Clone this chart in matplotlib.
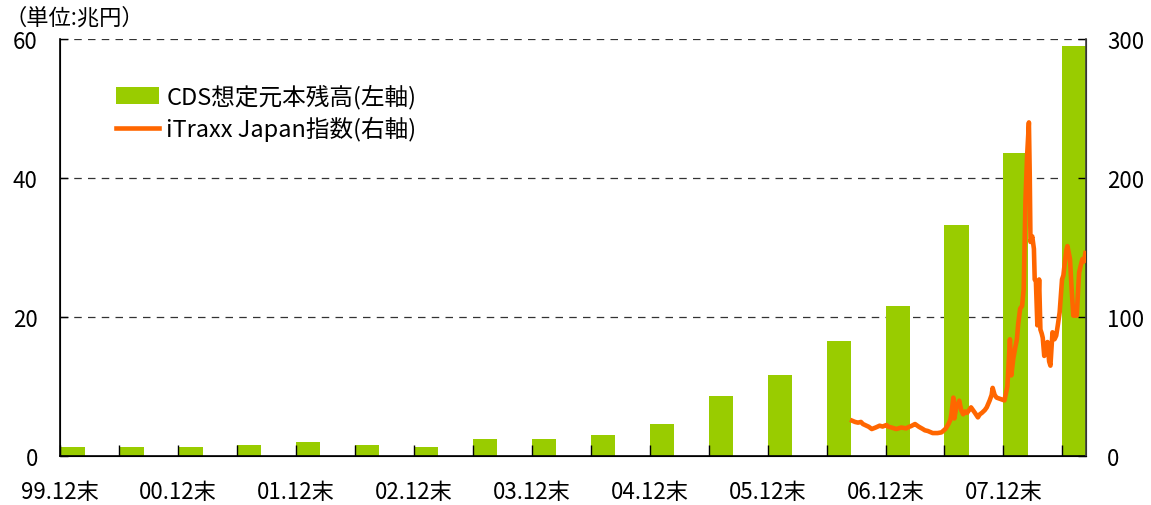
import matplotlib
matplotlib.use("Agg")
import matplotlib.pyplot as plt
from matplotlib.patches import Patch
from matplotlib.lines import Line2D

plt.rcParams['font.family'] = ['Noto Sans CJK JP', 'DejaVu Sans']

# CDS notional outstanding (trillion yen), half-yearly from 99.12
cds_period = ['99.12', '00.06', '00.12', '01.06', '01.12', '02.06', '02.12', '03.06', '03.12',
              '04.06', '04.12', '05.06', '05.12', '06.06', '06.12', '07.06', '07.12', '08.06']
cds_amount = [1.3, 1.3, 1.3, 1.6, 2.0, 1.6, 1.3, 2.5, 2.5,
              3.0, 4.6, 8.7, 11.7, 16.6, 21.6, 33.3, 43.6, 59.0]

# iTraxx Japan index, x = months after end of 1999.12
itraxx_month = [80.6, 80.9, 81.2, 81.5, 81.7, 82.0, 82.3, 82.6, 83.0, 83.4, 83.7, 84.1, 84.3,
                84.6, 85.1, 85.6, 86.1, 86.4, 86.6, 87.0, 87.2, 87.4, 87.8, 88.0, 88.3, 88.8,
                89.3, 89.7, 90.1, 90.4, 90.6, 90.7, 90.9, 91.0, 91.2, 91.5, 91.7, 91.9, 92.1,
                92.3, 92.5, 92.7, 93.1, 93.4, 93.6, 93.8, 94.1, 94.3, 94.6, 94.8, 94.9, 95.1,
                95.3, 95.7, 96.1, 96.4, 96.66, 96.8, 97.0, 97.2, 97.37, 97.5, 97.7, 97.9, 98.06,
                98.24, 98.4, 98.59, 98.68, 98.75, 98.93, 99.1, 99.18, 99.3, 99.45, 99.63, 99.76,
                99.9, 100.0, 100.15, 100.3, 100.48, 100.65, 100.78, 100.99, 101.2, 101.37,
                101.55, 101.72, 101.96, 102.1, 102.24, 102.4, 102.51, 102.65, 102.77, 102.94,
                103.11, 103.3, 103.46, 103.6, 103.7, 103.9, 104.04, 104.2, 104.34]
itraxx_value = [25.4, 24.5, 24, 24.5, 23, 22, 21, 19.4, 20.5, 21.8, 21.2, 22.3, 21,
                20.5, 19.4, 20.5, 19.9, 21, 21.5, 23, 22, 21, 19.4, 18.5, 18, 16.5,
                16.5, 17, 19.5, 23, 26, 30, 42, 27, 35, 39.8, 33, 30, 32,
                31, 33, 35, 31, 27.8, 30, 31, 33, 35, 40, 44, 49, 44,
                42, 41, 40, 50, 84, 58, 70, 78, 84, 95, 106, 108, 120,
                184, 215, 240, 200, 154, 158, 149, 127, 126, 94, 127, 91,
                88, 85, 72, 78, 82, 68, 65, 89, 84, 86.6,
                95, 103.4, 127, 130, 139, 148, 151, 146, 141.7, 120,
                101, 101, 101, 120, 132, 138, 141.7, 140, 146]

tick_labels = ['99.12末', '00.12末', '01.12末', '02.12末', '03.12末',
               '04.12末', '05.12末', '06.12末', '07.12末']

green = '#99CC00'
orange = '#FF6600'
fs = 16

fig = plt.figure(figsize=(11.51, 5.06), dpi=100)
ax = fig.add_axes([60 / 1151, 1 - 457 / 506, 1026 / 1151, 417 / 506])
ax2 = ax.twinx()

bar_x = [6 * i for i in range(len(cds_period))]
ax.bar(bar_x, cds_amount, width=2.5, align='edge', color=green, zorder=2)
ax2.plot(itraxx_month, itraxx_value, color=orange, lw=3.3, solid_joinstyle='round', zorder=3)

ax.set_xlim(0, 104.4)
ax.set_ylim(0, 60)
ax2.set_ylim(0, 300)
ax.set_yticks([0, 20, 40, 60])
ax2.set_yticks([0, 100, 200, 300])

ax.set_xticks(bar_x)
ax.set_xticklabels([tick_labels[i // 2] if i % 2 == 0 else '' for i in range(len(bar_x))])

# dashed gridlines stay behind the bars, tick marks sit on top
for y in [20, 40, 60]:
    ax.axhline(y, color='#333333', lw=0.9, ls=(0, (6, 5)), zorder=1)
ax.set_axisbelow(False)

ax.spines['top'].set_visible(False)
ax2.spines['top'].set_visible(False)
ax.spines['left'].set_color('black')
ax.spines['bottom'].set_color('black')
ax2.spines['right'].set_color('#404040')
for sp in ['left', 'bottom']:
    ax.spines[sp].set_linewidth(1.2)
ax2.spines['right'].set_linewidth(1.2)

ax.tick_params(axis='x', direction='in', length=8, width=1, pad=17, labelsize=fs)
ax.tick_params(axis='y', direction='in', length=6, width=1, pad=16, labelsize=fs)
ax2.tick_params(axis='y', direction='in', length=6, width=1, pad=15, labelsize=fs)

fig.text(5 / 1151, 1 - 18 / 506, '（単位:兆円）', fontsize=fs, va='center', ha='left')

handles = [Patch(facecolor=green, edgecolor='none'),
           Line2D([0], [0], color=orange, lw=3.3)]
labels = ['CDS想定元本残高(左軸)', 'iTraxx Japan指数(右軸)']
ax2.legend(handles, labels, loc='upper left', bbox_to_anchor=(0.045, 0.915),
           frameon=False, fontsize=17, handlelength=1.85, handletextpad=0.3,
           labelspacing=0.3, borderaxespad=0)

fig.savefig('out.png', dpi=100)
